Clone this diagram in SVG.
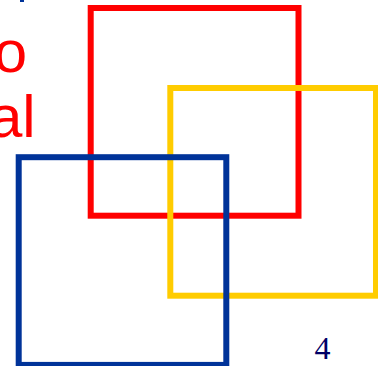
<svg xmlns="http://www.w3.org/2000/svg" width="378" height="366" viewBox="0 0 378 366">
<style>
.sq{fill:none;stroke-width:6}
.red{stroke:#FF0000}
.yel{stroke:#FFCC00}
.blu{stroke:#003399}
.big{font-family:"Liberation Sans",Arial,sans-serif;font-size:60px;fill:#FF0000;text-anchor:end}
.num{font-family:"Liberation Serif","Times New Roman",serif;font-size:32px;fill:#000066}
</style>
<rect width="378" height="366" fill="#FFFFFF"/>
<rect x="20" y="0" width="4" height="2" fill="#003399"/>
<g id="title">
<text class="big" x="27" y="71.5">o</text>
<text class="big" x="35.7" y="136.5">al</text>
</g>
<g id="red-square"><rect class="sq red" x="90.7" y="8" width="207.8" height="207.7"/></g>
<g id="yellow-square"><rect class="sq yel" x="170.3" y="88" width="205.7" height="207.7"/></g>
<g id="blue-square"><rect class="sq blu" x="18.7" y="157.2" width="207.6" height="207.7"/></g>
<g id="connectors"></g>
<g id="page-number"><text class="num" x="314.6" y="359">4</text></g>
</svg>
